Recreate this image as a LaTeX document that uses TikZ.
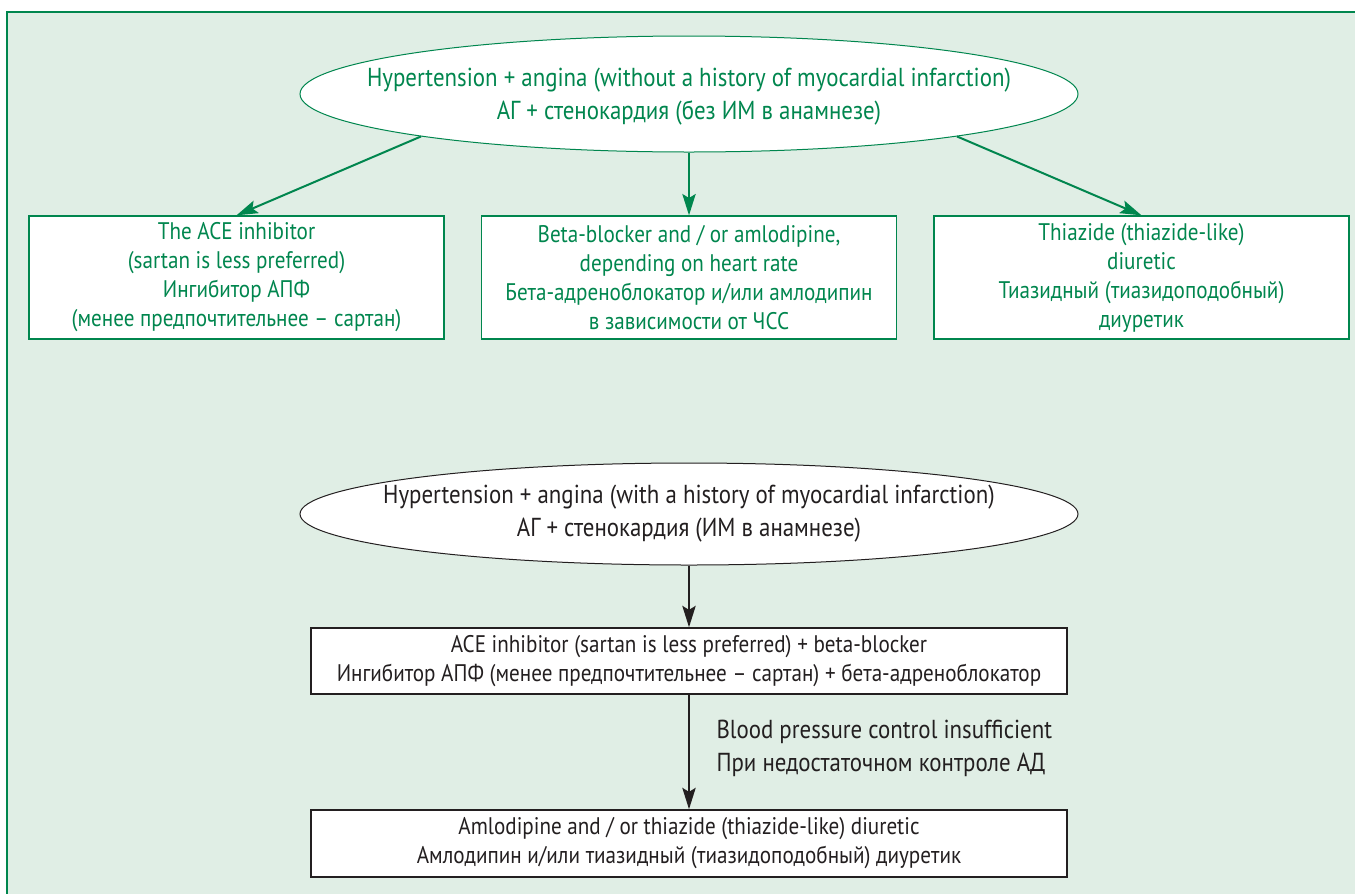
\documentclass[tikz,border=0pt]{standalone}
\usepackage{fontspec}
\setmainfont[FakeStretch=0.88]{PT Sans}
\usetikzlibrary{shapes.geometric,arrows.meta}

\definecolor{schemegreen}{HTML}{00864E}
\definecolor{schemebg}{HTML}{E0EEE5}
\definecolor{schemeink}{HTML}{231F20}

\tikzset{every picture/.style={line width=0.75pt}}
\tikzset{
  oval/.style={ellipse, fill=white, minimum width=583.5pt, inner xsep=-80pt, inner ysep=0pt, align=center, font=\fontsize{19.5}{24.75}\selectfont},
  greenoval/.style={oval, draw=schemegreen, text=schemegreen, minimum height=87pt},
  blackoval/.style={oval, draw=schemeink, text=schemeink, minimum height=76.5pt},
  greenbox/.style={draw=schemegreen, line width=1pt, fill=white, text=schemegreen, minimum width=311.25pt, minimum height=92.25pt, inner sep=0pt, align=center, font=\fontsize{18}{21.75}\selectfont},
  blackbox/.style={draw=schemeink, line width=1.2pt, fill=white, text=schemeink, minimum width=567pt, inner sep=0pt, align=center, font=\fontsize{18}{21.75}\selectfont},
  greenarrow/.style={draw=schemegreen, line width=1.5pt, -{Stealth[length=16pt, width=10pt, inset=3pt]}},
  blackarrow/.style={draw=schemeink, line width=1.5pt, -{Stealth[length=16pt, width=10pt, inset=3pt]}}
}

\begin{document}
\begin{tikzpicture}[x=0.75pt,y=0.75pt,yscale=-1,xscale=1]
\useasboundingbox (0,0) rectangle (1355,893);

% Frame
\draw[draw=schemegreen, line width=1.1pt, fill=schemebg] (7,12) rectangle (1380,920);

% Without myocardial infarction
\node[greenoval, text depth=-3pt] (nomi) at (689,94) {Hypertension + angina (without a history of myocardial infarction)\\АГ + стенокардия (без ИМ в анамнезе)};
\node[greenbox] (acei) at (236.5,277.5) {The ACE inhibitor\\(sartan is less preferred)\\Ингибитор АПФ\\(менее предпочтительнее – сартан)};
\node[greenbox] (bblock) at (689,277.5) {Beta-blocker and / or amlodipine,\\depending on heart rate\\Бета-адреноблокатор и/или амлодипин\\в зависимости от ЧСС};
\node[greenbox] (thiaz) at (1141.5,277.5) {Thiazide (thiazide-like)\\diuretic\\Тиазидный (тиазидоподобный)\\диуретик};

\draw[greenarrow] (nomi.189) -- (acei.north);
\draw[greenarrow] (nomi.south) -- (bblock.north);
\draw[greenarrow] (nomi.351) -- (thiaz.north);

% With myocardial infarction
\node[blackoval] (withmi) at (689,514) {Hypertension + angina (with a history of myocardial infarction)\\АГ + стенокардия (ИМ в анамнезе)};
\node[blackbox, minimum height=49.5pt] (combo) at (689,661) {ACE inhibitor (sartan is less preferred) + beta-blocker\\Ингибитор АПФ (менее предпочтительнее – сартан) + бета-адреноблокатор};
\node[blackbox, minimum height=50.25pt] (addon) at (689,843.5) {Amlodipine and / or thiazide (thiazide-like) diuretic\\Амлодипин и/или тиазидный (тиазидоподобный) диуретик};

\draw[blackarrow] (withmi.south) -- (combo.north);
\draw[blackarrow] (combo.south) -- (addon.north);

% Label
\node[anchor=west, inner sep=0pt, align=left, text=schemeink, font=\fontsize{19.5}{24.75}\selectfont] (bpnote) at (716,748.5) {Blood pressure control insufficient\\При недостаточном контроле АД};

\end{tikzpicture}
\end{document}
